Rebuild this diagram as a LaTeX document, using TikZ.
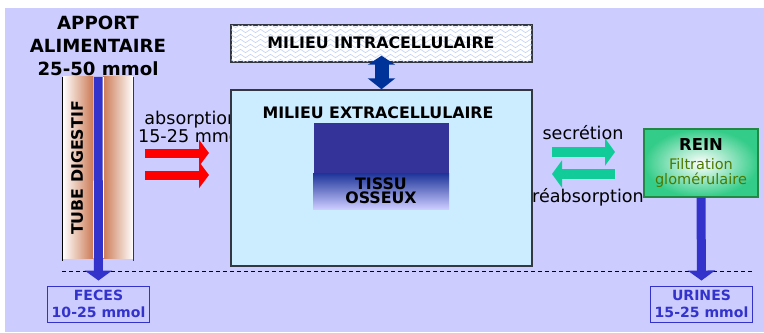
\documentclass[tikz,border=0pt]{standalone}
\usepackage{fontspec}
\setmainfont{DejaVu Sans}
\usetikzlibrary{arrows.meta, calc, decorations.pathmorphing}
\definecolor{lavender}{RGB}{204,204,255}
\definecolor{extrafill}{RGB}{204,236,255}
\definecolor{boxgray}{RGB}{50,55,65}
\definecolor{tubebrown}{RGB}{204,122,84}
\definecolor{barblue}{RGB}{51,51,204}
\definecolor{navy}{RGB}{0,51,153}
\definecolor{bone}{RGB}{51,51,153}
\definecolor{bonetop}{RGB}{28,51,153}
\definecolor{bonemid}{RGB}{120,125,205}
\definecolor{flowgreen}{RGB}{17,204,153}
\definecolor{reingreen}{RGB}{51,204,136}
\definecolor{reinedge}{RGB}{34,136,68}
\definecolor{olive}{RGB}{77,120,0}
\definecolor{zigblue}{RGB}{196,210,245}

\begin{document}
\begin{tikzpicture}[x=0.03cm, y=-0.03cm,
  big/.style={font=\fontsize{15.5}{19.6}\selectfont\bfseries},
  lbl/.style={font=\fontsize{13.5}{12}\selectfont\bfseries},
  txt/.style={font=\fontsize{15}{13.6}\selectfont},
  milieu/.style={draw=boxgray, line width=1.2pt, inner sep=0pt, minimum width=9.03cm},
  outbox/.style={draw=barblue, line width=0.8pt, text=barblue, align=center,
                 minimum width=2.97cm, minimum height=1.08cm,
                 font=\fontsize{12}{14.5}\selectfont\bfseries},
  bluebar/.style={barblue, line width=0.27cm, shorten >=0.15cm,
                  -{Triangle[length=0.3cm,width=0.81cm]}},
  redarr/.style={red, line width=0.27cm, -{Triangle[length=0.3cm,width=0.78cm]}},
  greenarr/.style={flowgreen, line width=0.3cm, -{Triangle[length=0.3cm,width=0.81cm]}},
  dblarr/.style={navy, line width=0.42cm,
                 {Triangle[length=0.27cm,width=0.81cm]}-{Triangle[length=0.33cm,width=0.81cm]}},
  zig/.style={zigblue, line width=0.5pt,
              decorate, decoration={zigzag, segment length=0.3cm, amplitude=0.05cm}}
]
% fond
\useasboundingbox (0,0) rectangle (764,332);
\fill[lavender] (5,8) rectangle (764,332);

% apport
\node[big, align=center] (apport) at (98,46) {APPORT\\ALIMENTAIRE\\25-50 mmol};

% tube digestif
\node[minimum width=2.1cm, minimum height=5.43cm, inner sep=0pt] (tube) at (98,167.5) {};
\shade[left color=white, right color=tubebrown] (tube.north west) rectangle ($(tube.south)+(-5,0)$);
\shade[left color=tubebrown, right color=white] ($(tube.north)+(5,0)$) rectangle (tube.south east);
\draw[black, line width=0.9pt] (tube.north west) -- ($(tube.south west)+(0,3)$);
\draw[boxgray, line width=0.9pt] (tube.north east) -- ($(tube.south east)+(0,3)$);
\draw[white, line width=0.33cm] (tube.north) -- (tube.south);
\node[lbl, rotate=90] (tubelbl) at (77,168) {TUBE DIGESTIF};

% absorption (passe sous le milieu extracellulaire)
\node[txt, align=center, anchor=west] (absorb) at (134,127) {absorption\\15-25 mmol};
\coordinate (ra1) at (145,153); \coordinate (rb1) at (209,153);
\coordinate (ra2) at (145,175); \coordinate (rb2) at (209,175);

% milieux
\node[milieu, fill=white, minimum height=1.11cm] (intra) at (381.5,43.5) {};
\begin{scope}
  \clip (intra.north west) rectangle (intra.south east);
  \foreach \yy in {26,31,...,62}
    \draw[zig] (228,\yy) -- (540,\yy);
\end{scope}
\draw[boxgray, line width=1.2pt] (intra.north west) rectangle (intra.south east);
\node[lbl] (intralbl) at (381,43) {MILIEU INTRACELLULAIRE};

\node[milieu, fill=extrafill, minimum height=5.28cm] (extra) at (381.5,178) {};
\node[lbl] (extralbl) at (378,113) {MILIEU EXTRACELLULAIRE};

% tissu osseux
\node[fill=bone, minimum width=4.05cm, minimum height=1.5cm, inner sep=0pt] (os) at (381.5,148) {};
\node[lbl, align=center, minimum width=4.08cm, minimum height=1.08cm, inner sep=0pt,
      top color=bonetop, middle color=bonemid, bottom color=lavender] (tissu) at (381,191) {TISSU\\OSSEUX};

% rein
\node[draw=reinedge, line width=1pt, shading=radial, inner color=white, outer color=reingreen,
      minimum width=3.42cm, minimum height=2.04cm, align=center,
      font=\fontsize{12.4}{12.8}\selectfont] (rein) at (701,163)
  {{\fontsize{14}{14}\selectfont\bfseries REIN}\\[3pt]
   \textcolor{olive}{Filtration}\\\textcolor{olive}{glomérulaire}};

\node[txt] (secr) at (583,133) {secrétion};
\node[txt] (reabs) at (588,197) {réabsorption};
\coordinate (ga1) at (552,152); \coordinate (gb1) at (615,152);
\coordinate (ga2) at (615,174); \coordinate (gb2) at (552,174);

% sorties
\coordinate (dashL) at (62,271); \coordinate (dashR) at (752,271);
\draw[black, line width=0.7pt, dash pattern=on 0.12cm off 0.09cm] (dashL) -- (dashR);
\node[outbox] (feces) at (98.5,304) {FECES\\10-25 mmol};
\node[outbox] (urines) at (701.5,304) {URINES\\15-25 mmol};

% fleches
\draw[dblarr] ($(intra.south)+(0,-7)$) -- (extra.north);
\draw[redarr] (ra1) -- (rb1);
\draw[redarr] (ra2) -- (rb2);
\draw[greenarr] (ga1) -- (gb1);
\draw[greenarr] (ga2) -- (gb2);
\draw[bluebar] (tube.north) -- (feces.north);
\draw[bluebar] (rein.south) -- (urines.north);
\end{tikzpicture}
\end{document}
